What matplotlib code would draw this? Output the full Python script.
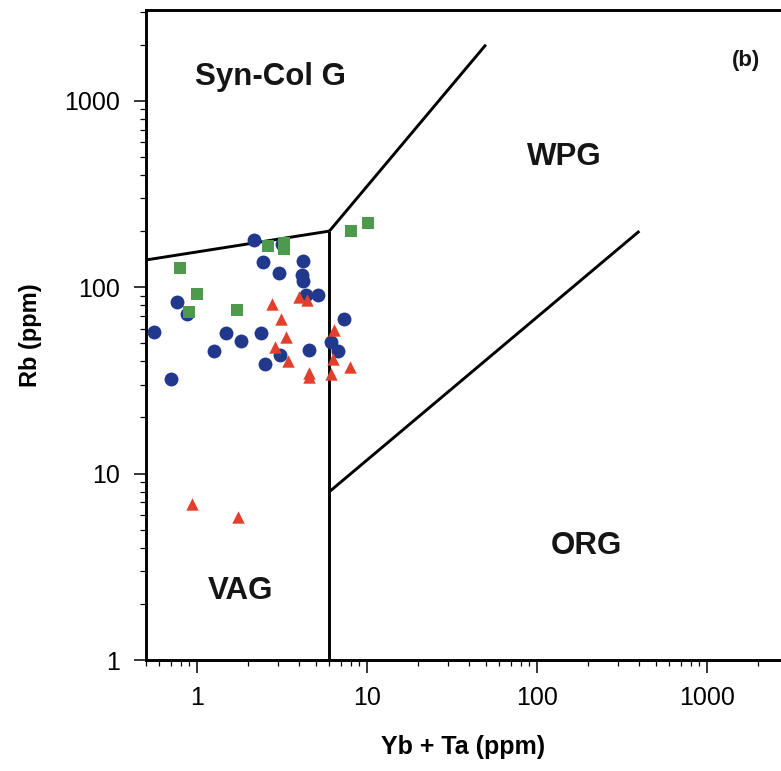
import matplotlib
matplotlib.use('Agg')
import matplotlib.pyplot as plt
from matplotlib.ticker import LogLocator, NullFormatter, FixedLocator, FixedFormatter

plt.rcParams['font.family'] = ['Liberation Sans', 'DejaVu Sans']

# data (Yb + Ta, Rb in ppm)
circle_x = [2.17, 3.15, 2.43, 4.22, 3.05, 4.13, 4.22, 4.36, 5.13, 0.76, 0.873,
            0.561, 1.48, 1.81, 2.36, 1.25, 3.08, 4.56, 6.14, 6.75, 7.35, 2.50, 0.697]
circle_y = [179, 170, 136, 139, 119, 116, 108, 91, 91, 83, 71.6,
            57.3, 56.8, 51.4, 56.8, 45.6, 43.1, 46.2, 50.8, 45.6, 67.5, 38.6, 32.2]

square_x = [10.1, 8.08, 2.61, 3.25, 3.25, 0.791, 1.00, 0.897, 1.71]
square_y = [220, 200, 167, 172, 160, 127, 91.6, 73.9, 75.7]

triangle_x = [2.77, 4.00, 4.42, 3.13, 3.35, 2.88, 3.44, 4.58, 4.58, 6.42, 6.34,
              6.17, 7.94, 0.931, 1.74]
triangle_y = [81.6, 88.2, 85.4, 67.8, 54.2, 48.0, 40.2, 34.5, 33.1, 58.9, 41.3,
              34.2, 37.2, 6.87, 5.87]

# field boundaries (Pearce et al. diagram)
bound_syncol_vag = ([0.5, 6], [140, 200])
bound_vertical = ([6, 6], [1, 200])
bound_syncol_wpg = ([6, 50], [200, 2000])
bound_wpg_org = ([6, 400], [8, 200])

fields = ['Syn-Col G', 'WPG', 'ORG', 'VAG']
field_x = [2.69, 144, 194, 1.81]
field_y = [1342, 500, 4.09, 2.35]

xticks = [1, 10, 100, 1000]
yticks = [1, 10, 100, 1000]

fig = plt.figure(figsize=(7.81, 7.71), dpi=100)
ax = fig.add_axes([146 / 781, 111 / 771, 1 - 146 / 781, 650 / 771])
ax.set_xscale('log')
ax.set_yscale('log')
ax.set_xlim(0.5, 2725)
ax.set_ylim(1, 3070)

lw = 2.1
for bx, by in [bound_syncol_vag, bound_vertical, bound_syncol_wpg, bound_wpg_org]:
    ax.plot(bx, by, color='black', lw=lw, solid_capstyle='butt', zorder=2)

ax.scatter(circle_x, circle_y, marker='o', s=100, color='#22388c', zorder=3, linewidths=0)
ax.scatter(square_x, square_y, marker='s', s=72, color='#4e9a4c', zorder=3, linewidths=0)
ax.scatter(triangle_x, triangle_y, marker='^', s=80, color='#e2402c', zorder=4, linewidths=0)

for name, fx, fy in zip(fields, field_x, field_y):
    ax.text(fx, fy, name, ha='center', va='center', fontsize=22.5, fontweight='bold',
            color='#151515')
ax.text(0.945, 0.923, '(b)', transform=ax.transAxes, ha='center', va='center',
        fontsize=16, fontweight='bold', color='#151515')

ax.xaxis.set_major_locator(FixedLocator(xticks))
ax.xaxis.set_major_formatter(FixedFormatter([str(t) for t in xticks]))
ax.yaxis.set_major_locator(FixedLocator(yticks))
ax.yaxis.set_major_formatter(FixedFormatter([str(t) for t in yticks]))
ax.xaxis.set_minor_locator(LogLocator(base=10, subs=range(2, 10)))
ax.yaxis.set_minor_locator(LogLocator(base=10, subs=range(2, 10)))
ax.xaxis.set_minor_formatter(NullFormatter())
ax.yaxis.set_minor_formatter(NullFormatter())

ax.tick_params(axis='both', which='major', direction='out', length=9, width=1.1,
               labelsize=18, pad=10)
ax.tick_params(axis='both', which='minor', direction='out', length=4.5, width=0.9)

for side in ['left', 'top', 'bottom']:
    ax.spines[side].set_linewidth(lw)
ax.spines['right'].set_visible(False)

ax.set_xlabel('Yb + Ta (ppm)', fontsize=18, fontweight='bold', labelpad=18)
ax.set_ylabel('Rb (ppm)', fontsize=17, fontweight='bold', labelpad=16)

fig.savefig('out.png', dpi=100)
